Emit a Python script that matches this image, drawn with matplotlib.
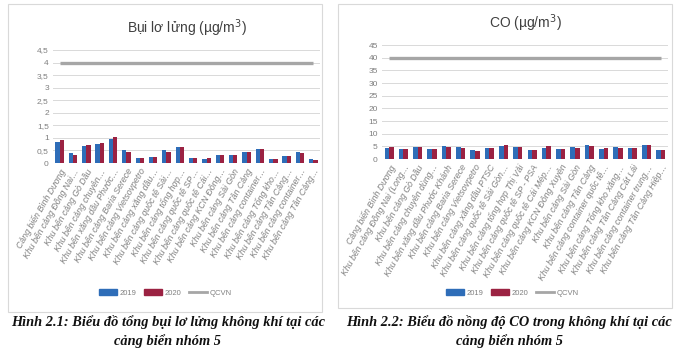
import matplotlib
matplotlib.use("Agg")
import matplotlib.pyplot as plt
import numpy as np
from matplotlib import font_manager
from matplotlib.patches import Rectangle, Patch
from matplotlib.lines import Line2D

names = {f.name for f in font_manager.fontManager.ttflist}
NARROW = "Liberation Sans Narrow" if "Liberation Sans Narrow" in names else "Liberation Sans"
SERIF = "Liberation Serif"

# ---------------- data ----------------
labels_dust = [
    "Cảng biển Bình Dương", "Khu bến cảng Đồng Nai…", "Khu bến cảng Gò Dầu",
    "Khu bến cảng chuyên…", "Khu bến xăng dầu Phước…", "Khu bến cảng Baria Serece",
    "Khu bến cảng Vietsovpetro", "Khu bến cảng xăng dầu…", "Khu bến cảng quốc tế Sài…",
    "Khu bến cảng tổng hợp…", "Khu bến cảng quốc tế SP…", "Khu bến cảng quốc tế Cái…",
    "Khu bến cảng KCN Đông…", "Khu bến cảng Sài Gòn", "Khu bến cảng Tân Cảng",
    "Khu bến cảng container…", "Khu bến cảng Tổng kho…", "Khu bến cảng Tân Cảng…",
    "Khu bến cảng container…", "Khu bến cảng Tân Cảng…",
]
dust_2019 = [0.83, 0.38, 0.67, 0.77, 0.97, 0.52, 0.20, 0.23, 0.50, 0.64,
             0.18, 0.15, 0.33, 0.33, 0.45, 0.57, 0.15, 0.28, 0.43, 0.15]
dust_2020 = [0.90, 0.30, 0.72, 0.80, 1.05, 0.45, 0.18, 0.23, 0.45, 0.64,
             0.20, 0.18, 0.33, 0.30, 0.45, 0.57, 0.15, 0.28, 0.40, 0.12]
dust_qcvn = 4
dust_ticks = [0, 0.5, 1, 1.5, 2, 2.5, 3, 3.5, 4, 4.5]
dust_ticklabels = ["0", "0,5", "1", "1,5", "2", "2,5", "3", "3,5", "4", "4,5"]

labels_co = [
    "Cảng biển Bình Dương", "Khu bến cảng Đồng Nai (Long…", "Khu bến cảng Gò Dầu",
    "Khu bến cảng chuyên dùng…", "Khu bến xăng dầu Phước Khánh", "Khu bến cảng Baria Serece",
    "Khu bến cảng Vietsovpetro", "Khu bến cảng xăng dầu PTSC", "Khu bến cảng quốc tế Sài Gòn…",
    "Khu bến cảng tổng hợp Thị Vải", "Khu bến cảng quốc tế SP - PSA", "Khu bến cảng quốc tế Cái Mép…",
    "Khu bến cảng KCN Đông Xuyên", "Khu bến cảng Sài Gòn", "Khu bến cảng Tân Cảng",
    "Khu bến cảng container quốc tế…", "Khu bến cảng Tổng kho xăng…", "Khu bến cảng Tân Cảng Cát Lái",
    "Khu bến cảng container trung…", "Khu bến cảng Tân Cảng Hiệp…",
]
co_2019 = [4.2, 3.8, 4.9, 4.0, 5.1, 4.6, 3.5, 4.4, 5.1, 4.6,
           3.5, 4.5, 3.8, 4.9, 5.4, 4.0, 4.8, 4.5, 5.6, 3.5]
co_2020 = [4.7, 4.0, 4.9, 3.8, 4.7, 4.3, 3.3, 4.2, 5.4, 4.7,
           3.5, 5.3, 4.0, 4.5, 5.2, 4.2, 4.2, 4.5, 5.4, 3.5]
co_qcvn = 40
co_ticks = [0, 5, 10, 15, 20, 25, 30, 35, 40, 45]
co_ticklabels = [str(t) for t in co_ticks]

series_names = ["2019", "2020", "QCVN"]

# ---------------- style ----------------
BLUE = "#2E6DB8"
RED = "#9B2242"
GREY = "#A6A6A6"
TXT = "#7F7F7F"

W, H = 680, 353
fig = plt.figure(figsize=(W / 100, H / 100), dpi=100)


def frac(x0, y0, x1, y1):
    return [x0 / W, 1 - y1 / H, (x1 - x0) / W, (y1 - y0) / H]


def panel(box, title, labels, s1, s2, q, ticks, ticklabels, ymax, legend_x):
    ax = fig.add_axes(frac(*box))
    x = np.arange(len(labels))
    bw = 0.32
    ax.bar(x - bw / 2, s1, bw, color=BLUE, label=series_names[0], zorder=3)
    ax.bar(x + bw / 2, s2, bw, color=RED, label=series_names[1], zorder=3)
    ax.plot(x, [q] * len(x), color=GREY, lw=2.4, label=series_names[2], zorder=4,
            solid_capstyle="butt")
    ax.set_xlim(-0.5, len(labels) - 0.5)
    ax.set_ylim(0, ymax)
    ax.set_yticks(ticks)
    ax.set_yticklabels(ticklabels, fontsize=6, color=TXT, family=NARROW)
    ax.yaxis.grid(True, color="#D9D9D9", lw=0.7, zorder=0)
    for s in ax.spines.values():
        s.set_visible(False)
    ax.tick_params(axis="both", length=0, pad=3)
    ax.set_xticks(x)
    ax.set_xticklabels(labels, rotation=60, ha="right", rotation_mode="anchor",
                       fontsize=6.3, color=TXT, family=NARROW, style="italic")
    ax.set_title(title, fontsize=10, family=NARROW, color="#404040", pad=12)
    handles = [Patch(color=BLUE), Patch(color=RED), Line2D([], [], color=GREY, lw=2)]
    fig.legend(handles, series_names, loc="center", bbox_to_anchor=(legend_x / W, 1 - 293 / H),
               ncol=3, frameon=False, handlelength=2.4, handleheight=0.7,
               columnspacing=1.0, handletextpad=0.3, labelcolor=TXT,
               prop={"family": NARROW, "size": 5.5})
    return ax


# panel frames
fig.add_artist(Rectangle((8 / W, 1 - 312 / H), (322 - 8) / W, (312 - 4) / H,
                         transform=fig.transFigure, fill=False, ec="#D9D9D9", lw=0.8))
fig.add_artist(Rectangle((338 / W, 1 - 308 / H), (672 - 338) / W, (308 - 4) / H,
                         transform=fig.transFigure, fill=False, ec="#D9D9D9", lw=0.8))

panel((53, 50, 320, 163), "Bụi lơ lửng (µg/m$^3$)", labels_dust, dust_2019, dust_2020,
      dust_qcvn, dust_ticks, dust_ticklabels, 4.5, 165)
panel((382, 45, 668, 159), "CO (µg/m$^3$)", labels_co, co_2019, co_2020,
      co_qcvn, co_ticks, co_ticklabels, 45, 512)

cap = dict(family=SERIF, weight="bold", style="italic", fontsize=10.4, ha="center", va="center",
           color="#111111")
fig.text(168 / W, 1 - 322 / H, "Hình 2.1: Biểu đồ tổng bụi lơ lửng không khí tại các", **cap)
fig.text(168 / W, 1 - 341 / H, "cảng biển nhóm 5", **cap)
fig.text(509 / W, 1 - 322 / H, "Hình 2.2: Biểu đồ nồng độ CO trong không khí tại các", **cap)
fig.text(509 / W, 1 - 341 / H, "cảng biển nhóm 5", **cap)

fig.savefig("out.png", dpi=100, facecolor="white")
